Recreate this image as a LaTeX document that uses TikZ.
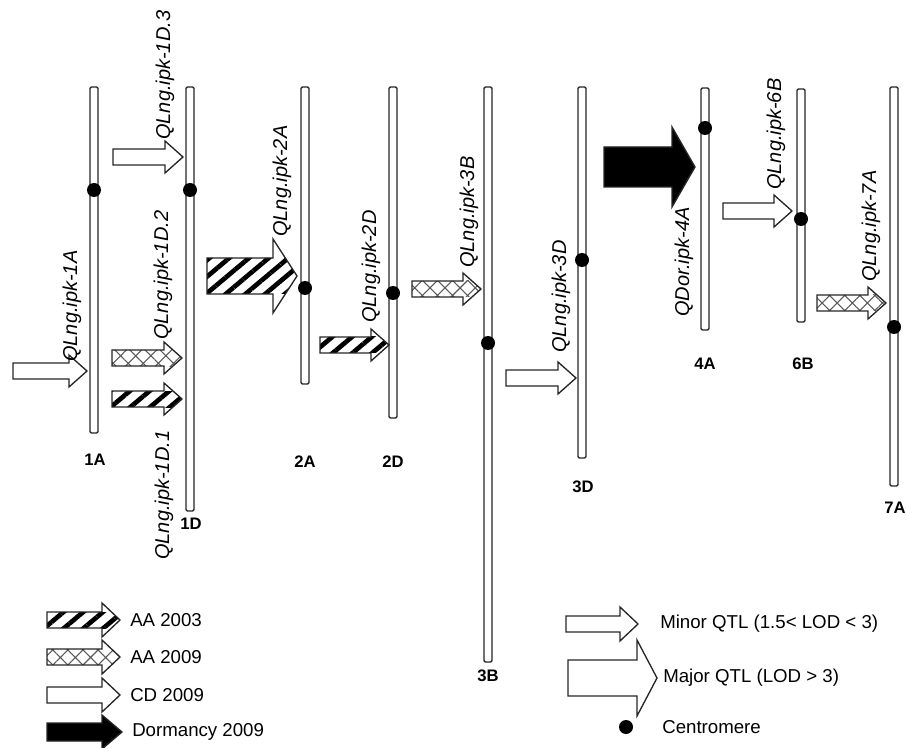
\documentclass[tikz,border=0pt]{standalone}
\usepackage{fontspec}
\setmainfont{Liberation Sans}
\usetikzlibrary{patterns.meta}

\begin{document}
\begin{tikzpicture}[x=0.75pt,y=0.75pt,yscale=-1,xscale=1,
  chrom/.style={draw=black!85,line width=1pt,fill=white,rounded corners=1pt},
  qtl/.style={draw=black!85,line width=1pt,line join=miter,fill=white},
  aa03/.style={qtl,path picture={\fill [pattern={Lines[angle=40,distance=9.5pt,line width=3.5pt]},pattern color=black]
      ([yshift=-#1]path picture bounding box.west) rectangle ([yshift=#1]path picture bounding box.east);}},
  aa03/.default=6pt,
  aa09/.style={qtl,path picture={\fill [pattern={Hatch[angle=45,distance=8pt,line width=0.8pt]},pattern color=black!65]
      ([yshift=-#1]path picture bounding box.west) rectangle ([yshift=#1]path picture bounding box.east);}},
  aa09/.default=6pt,
  cd09/.style={qtl},
  dorm/.style={qtl,fill=black},
  qlabel/.style={anchor=west,inner sep=0pt,rotate=90,font=\fontsize{15}{18}\selectfont\itshape},
  chrlabel/.style={inner sep=0pt,font=\fontsize{12.5}{15}\selectfont\bfseries},
  legtext/.style={anchor=west,inner sep=0pt,font=\fontsize{14}{17}\selectfont}]
%set diagram size
\useasboundingbox (0,0) rectangle (906,748);

%Shape: Chromosomes
\draw [chrom] (90,87) rectangle (98,433);
\draw [chrom] (186,87) rectangle (194,511);
\draw [chrom] (301,87) rectangle (309,384);
\draw [chrom] (389,87) rectangle (397,418);
\draw [chrom] (484,87) rectangle (492,662);
\draw [chrom] (578,87) rectangle (586,458);
\draw [chrom] (701,88) rectangle (709,330);
\draw [chrom] (797,89) rectangle (805,322);
\draw [chrom] (890,87) rectangle (898,486);

%Shape: Right Arrow 1A
\draw [cd09] (13,363) -- (69,363) -- (69,355) -- (87,371) -- (69,387) -- (69,379) -- (13,379) -- cycle ;
%Shape: Right Arrow 1D.3
\draw [cd09] (113,149) -- (165,149) -- (165,141) -- (183,157) -- (165,173) -- (165,165) -- (113,165) -- cycle ;
%Shape: Right Arrow 1D.2
\draw [aa09] (112,350) -- (164,350) -- (164,342) -- (182,358) -- (164,374) -- (164,366) -- (112,366) -- cycle ;
%Shape: Right Arrow 1D.1
\draw [aa03] (112,391) -- (164,391) -- (164,383) -- (182,399) -- (164,415) -- (164,407) -- (112,407) -- cycle ;
%Shape: Right Arrow 2A
\draw [aa03=13.5pt] (207,258) -- (273,258) -- (273,239) -- (297,276) -- (273,313) -- (273,294) -- (207,294) -- cycle ;
%Shape: Right Arrow 2D
\draw [aa03] (320,337) -- (371,337) -- (371,329) -- (389,345) -- (371,361) -- (371,353) -- (320,353) -- cycle ;
%Shape: Right Arrow 3B
\draw [aa09] (412,281) -- (463,281) -- (463,273) -- (481,289) -- (463,305) -- (463,297) -- (412,297) -- cycle ;
%Shape: Right Arrow 3D
\draw [cd09] (506,370) -- (558,370) -- (558,362) -- (576,378) -- (558,394) -- (558,386) -- (506,386) -- cycle ;
%Shape: Right Arrow 4A
\draw [dorm] (604,147) -- (672,147) -- (672,127) -- (695,167) -- (672,207) -- (672,187) -- (604,187) -- cycle ;
%Shape: Right Arrow 6B
\draw [cd09] (723,203) -- (774,203) -- (774,195) -- (792,211) -- (774,227) -- (774,219) -- (723,219) -- cycle ;
%Shape: Right Arrow 7A
\draw [aa09] (817,295) -- (868,295) -- (868,287) -- (886,303) -- (868,319) -- (868,311) -- (817,311) -- cycle ;

%Shape: Centromeres
\fill (94,190) circle (7) ;
\fill (190,190) circle (7) ;
\fill (305,288) circle (7) ;
\fill (393,293) circle (7) ;
\fill (488,343) circle (7) ;
\fill (582,260) circle (7) ;
\fill (705,128) circle (7) ;
\fill (801,219) circle (7) ;
\fill (894,327) circle (7) ;

% Text Node
\node (q1A) at (72,362) [qlabel] {QLng.ipk-1A};
\node (q1D3) at (165,140) [qlabel] {QLng.ipk-1D.3};
\node (q1D2) at (163,340) [qlabel] {QLng.ipk-1D.2};
\node (q1D1) at (164,560) [qlabel] {QLng.ipk-1D.1};
\node (q2A) at (282,237) [qlabel] {QLng.ipk-2A};
\node (q2D) at (371,323) [qlabel] {QLng.ipk-2D};
\node (q3B) at (469,268) [qlabel] {QLng.ipk-3B};
\node (q3D) at (561,353) [qlabel] {QLng.ipk-3D};
\node (q4A) at (684,317) [qlabel] {QDor.ipk-4A};
\node (q6B) at (776,190) [qlabel] {QLng.ipk-6B};
\node (q7A) at (871,282) [qlabel] {QLng.ipk-7A};

% Text Node
\node (c1A) at (95,460) [chrlabel] {1A};
\node (c1D) at (191,524) [chrlabel] {1D};
\node (c2A) at (305,462) [chrlabel] {2A};
\node (c2D) at (393,462) [chrlabel] {2D};
\node (c3B) at (488,676) [chrlabel] {3B};
\node (c3D) at (583,487) [chrlabel] {3D};
\node (c4A) at (705,364) [chrlabel] {4A};
\node (c6B) at (803,364) [chrlabel] {6B};
\node (c7A) at (895,508) [chrlabel] {7A};

%Legend
\draw [aa03] (47,612) -- (102,612) -- (102,603) -- (120,620) -- (102,637) -- (102,628) -- (47,628) -- cycle ;
\draw [aa09] (47,649) -- (102,649) -- (102,640) -- (120,657) -- (102,674) -- (102,665) -- (47,665) -- cycle ;
\draw [cd09] (47,687) -- (102,687) -- (102,678) -- (120,695) -- (102,712) -- (102,703) -- (47,703) -- cycle ;
\draw [dorm] (47,723) -- (102,723) -- (102,715) -- (122,732) -- (102,749) -- (102,741) -- (47,741) -- cycle ;
\draw [cd09] (566,616) -- (620,616) -- (620,607) -- (638,624) -- (620,641) -- (620,632) -- (566,632) -- cycle ;
\draw [cd09] (568,660) -- (637,660) -- (637,640) -- (657,678) -- (637,716) -- (637,696) -- (568,696) -- cycle ;
\fill (626,727) circle (7) ;

% Text Node
\node (kAA03) at (130,620) [legtext] {AA 2003};
\node (kAA09) at (130,657) [legtext] {AA 2009};
\node (kCD09) at (130,695) [legtext] {CD 2009};
\node (kDorm) at (132,732) [legtext] {Dormancy 2009};
\node (kMinor) at (660,624) [legtext] {Minor QTL (1.5< LOD < 3)};
\node (kMajor) at (663,678) [legtext] {Major QTL (LOD > 3)};
\node (kCen) at (662,727) [legtext] {Centromere};

\end{tikzpicture}
\end{document}
